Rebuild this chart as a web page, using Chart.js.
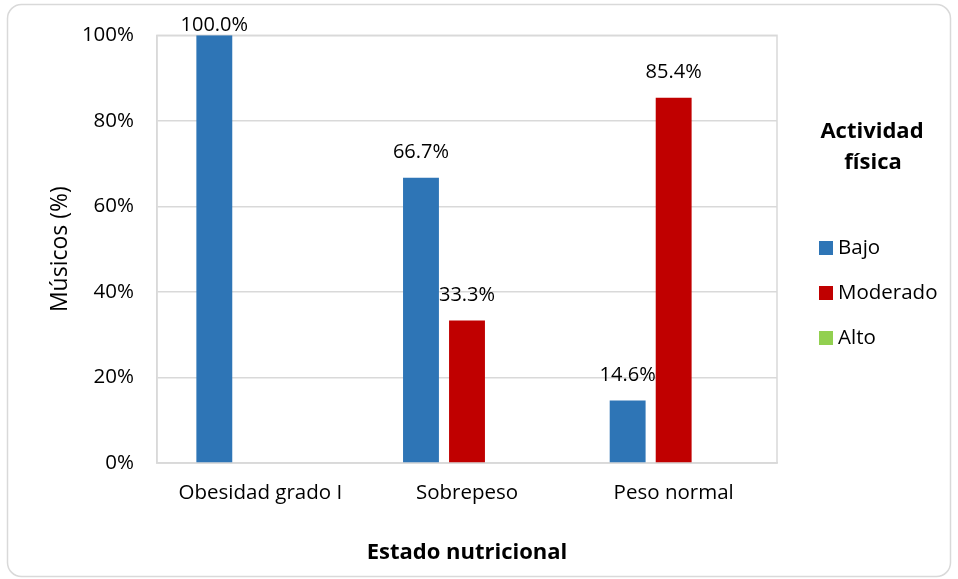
<!DOCTYPE html>
<html>
<head>
<meta charset="utf-8">
<script src="https://cdn.jsdelivr.net/npm/chart.js@4/dist/chart.umd.min.js"></script>
<style>
  html, body { margin: 0; padding: 0; background: #fff; }
  #wrap { width: 958px; height: 579px; position: relative; }
</style>
</head>
<body>
<div id="wrap"><canvas id="c" width="958" height="579"></canvas></div>
<script>
// categories and series
const categories = ['Obesidad grado I', 'Sobrepeso', 'Peso normal'];
const bajo = [100.0, 66.7, 14.6];
const moderado = [0, 33.3, 85.4];
const alto = [0, 0, 0];
const yTicks = [0, 20, 40, 60, 80, 100];

const FONT = '"Open Sans", Lato, sans-serif';
const GRID = '#d9d9d9';

// outer rounded frame + right border of the plot area
const framePlugin = {
  id: 'frame',
  beforeDraw(chart) {
    const ctx = chart.ctx;
    ctx.save();
    ctx.fillStyle = '#fff';
    ctx.fillRect(0, 0, chart.width, chart.height);
    ctx.strokeStyle = GRID;
    ctx.lineWidth = 1.5;
    ctx.beginPath();
    ctx.roundRect(7.5, 4.5, 943, 572, 14);
    ctx.stroke();
    ctx.restore();
  },
  beforeDatasetsDraw(chart) {
    const a = chart.chartArea;
    const ctx = chart.ctx;
    ctx.save();
    ctx.strokeStyle = GRID;
    ctx.lineWidth = 1.5;
    ctx.strokeRect(a.left, a.top, a.right - a.left, a.bottom - a.top);
    ctx.restore();
  }
};

// value labels above each non-zero bar
const labelPlugin = {
  id: 'barLabels',
  afterDatasetsDraw(chart) {
    const ctx = chart.ctx;
    ctx.save();
    ctx.font = '20px ' + FONT;
    ctx.fillStyle = '#000';
    ctx.textAlign = 'center';
    ctx.textBaseline = 'middle';
    chart.data.datasets.forEach((ds, i) => {
      const meta = chart.getDatasetMeta(i);
      meta.data.forEach((bar, j) => {
        const v = ds.data[j];
        if (!v) return;
        const y = Math.max(bar.y - 25, 25);
        ctx.fillText(v.toFixed(1) + '%', bar.x, y);
      });
    });
    ctx.restore();
  }
};

// legend on the right with a two-line title
const legendPlugin = {
  id: 'sideLegend',
  afterDraw(chart) {
    const ctx = chart.ctx;
    ctx.save();
    ctx.fillStyle = '#000';
    ctx.font = 'bold 22px ' + FONT;
    ctx.textAlign = 'center';
    ctx.textBaseline = 'middle';
    ctx.fillText('Actividad', 872, 132);
    ctx.fillText('física', 873, 163);
    ctx.font = '20.5px ' + FONT;
    ctx.textAlign = 'left';
    const rows = [248, 293, 338];
    chart.data.datasets.forEach((ds, i) => {
      ctx.fillStyle = ds.backgroundColor;
      ctx.fillRect(819, rows[i] - 7, 14, 14);
      ctx.fillStyle = '#000';
      ctx.fillText(ds.label, 838, rows[i]);
    });
    ctx.restore();
  }
};

new Chart(document.getElementById('c'), {
  type: 'bar',
  data: {
    labels: categories,
    datasets: [
      { label: 'Bajo', data: bajo, backgroundColor: '#2e75b6' },
      { label: 'Moderado', data: moderado, backgroundColor: '#c00000' },
      { label: 'Alto', data: alto, backgroundColor: '#92d050' }
    ]
  },
  options: {
    responsive: false,
    animation: false,
    devicePixelRatio: 1,
    layout: { padding: { top: 35, right: 181, bottom: 0, left: 0 } },
    datasets: { bar: { categoryPercentage: 0.668, barPercentage: 0.78 } },
    plugins: { legend: { display: false }, tooltip: { enabled: false } },
    scales: {
      x: {
        grid: { display: false, drawTicks: false },
        border: { color: GRID, width: 1.5 },
        ticks: { color: '#000', font: { family: FONT, size: 20.5 }, padding: 18, maxRotation: 0 },
        title: {
          display: true, text: 'Estado nutricional', color: '#000',
          font: { family: FONT, size: 22, weight: 'bold' }, padding: { top: 0, bottom: 13 }
        },
        afterFit(scale) { scale.height = 116; }
      },
      y: {
        min: 0, max: 100,
        afterBuildTicks(scale) { scale.ticks = yTicks.map(v => ({ value: v })); },
        grid: { color: GRID, lineWidth: 1.5, drawTicks: false },
        border: { color: GRID, width: 1.5 },
        ticks: {
          color: '#000', font: { family: FONT, size: 20.5 }, padding: 23,
          callback: v => v + '%'
        },
        title: {
          display: true, text: 'Músicos (%)', color: '#000',
          font: { family: FONT, size: 23 }, padding: { top: 47, bottom: 0 }
        },
        afterFit(scale) { scale.width = 157; }
      }
    }
  },
  plugins: [framePlugin, labelPlugin, legendPlugin]
});
</script>
</body>
</html>
